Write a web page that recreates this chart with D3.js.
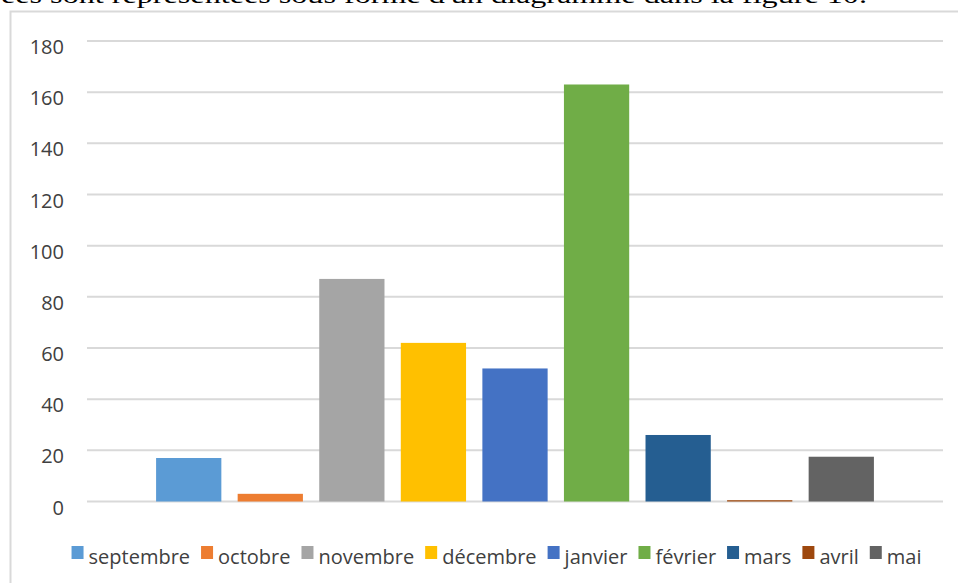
<!DOCTYPE html>
<html>
<head>
<meta charset="utf-8">
<script src="https://cdn.jsdelivr.net/npm/d3@7"></script>
<style>
  html, body { margin: 0; padding: 0; background: #fff; overflow: hidden; }
  svg { display: block; }
</style>
</head>
<body>
<svg id="chart" width="958" height="583"></svg>
<script>
'use strict';

// data
const months = ["septembre", "octobre", "novembre", "décembre", "janvier", "février", "mars", "avril", "mai"];
const counts = [17, 3, 87, 62, 52, 163, 26, 0.5, 17.5];
const colors = ["#5B9BD5", "#ED7D31", "#A5A5A5", "#FFC000", "#4472C4", "#70AD47", "#255E91", "#9E480E", "#636363"];
const yTicks = [0, 20, 40, 60, 80, 100, 120, 140, 160, 180];
const caption = "ées sont représentées sous forme d'un diagramme dans la figure 10.";

const svg = d3.select("#chart");
const textColor = "#404040";
const font = "'Open Sans', sans-serif";

// bit of document text above the chart, cut off by the page top (as in the source)
svg.append("text")
    .attr("x", 1)
    .attr("y", 3)
    .attr("font-family", "'Liberation Serif', serif")
    .attr("font-size", 24)
    .attr("fill", "#000")
    .attr("textLength", 866)
    .attr("lengthAdjust", "spacingAndGlyphs")
    .text(caption);

// chart frame
svg.append("rect")
    .attr("x", 10.5)
    .attr("y", 11.5)
    .attr("width", 1000)
    .attr("height", 600)
    .attr("fill", "#fff")
    .attr("stroke", "#d9d9d9")
    .attr("stroke-width", 2);

const plot = { left: 87, right: 943, top: 41, bottom: 501.5 };

const y = d3.scaleLinear()
    .domain([0, 180])
    .range([plot.bottom, plot.top]);

// one category, nine series side by side
const x0 = d3.scaleBand()
    .domain(["all"])
    .range([plot.left, plot.right])
    .paddingOuter(0.083);

const x1 = d3.scaleBand()
    .domain(months)
    .range([0, x0.bandwidth()])
    .paddingInner(0.2)
    .paddingOuter(0.1);

// gridlines
svg.append("g")
    .selectAll("line")
    .data(yTicks)
    .join("line")
    .attr("x1", plot.left)
    .attr("x2", plot.right)
    .attr("y1", d => y(d))
    .attr("y2", d => y(d))
    .attr("stroke", "#d9d9d9")
    .attr("stroke-width", 2);

// y labels
svg.append("g")
    .selectAll("text")
    .data(yTicks)
    .join("text")
    .attr("x", 64)
    .attr("y", d => y(d) + 13)
    .attr("text-anchor", "end")
    .attr("font-family", font)
    .attr("font-size", 20)
    .attr("fill", textColor)
    .text(d => d);

// bars
svg.append("g")
    .attr("transform", `translate(${x0("all")},0)`)
    .selectAll("rect")
    .data(months)
    .join("rect")
    .attr("x", d => x1(d))
    .attr("width", x1.bandwidth())
    .attr("y", (d, i) => y(counts[i]))
    .attr("height", (d, i) => y(0) - y(counts[i]))
    .attr("fill", (d, i) => colors[i]);

// legend, laid out from measured text widths
const legend = svg.append("g");
const items = legend.selectAll("g")
    .data(months)
    .join("g");

items.append("rect")
    .attr("width", 12)
    .attr("height", 13)
    .attr("y", 546)
    .attr("fill", (d, i) => colors[i]);

items.append("text")
    .attr("x", 17)
    .attr("y", 564)
    .attr("font-family", font)
    .attr("font-size", 20)
    .attr("fill", textColor)
    .text(d => d);

let pos = 0;
const offsets = [];
items.each(function () {
    offsets.push(pos);
    const w = d3.select(this).select("text").node().getComputedTextLength();
    pos += 17 + w + 11;
});
const legendWidth = pos - 11;
const legendStart = 496.5 - legendWidth / 2;
items.attr("transform", (d, i) => `translate(${legendStart + offsets[i]},0)`);
</script>
</body>
</html>
